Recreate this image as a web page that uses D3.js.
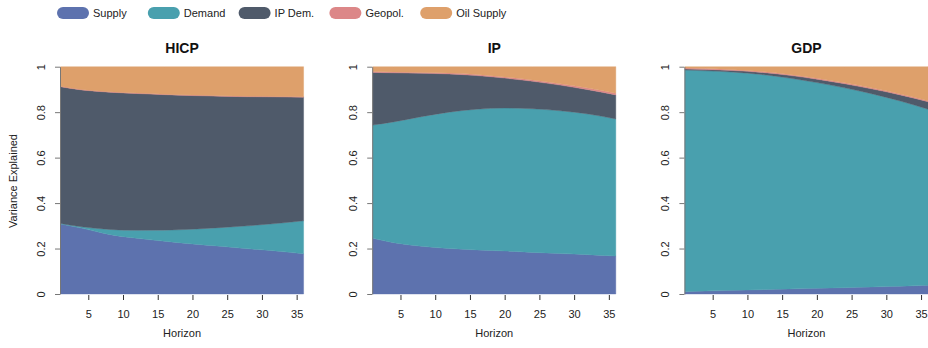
<!DOCTYPE html>
<html><head><meta charset="utf-8">
<script src="https://cdn.jsdelivr.net/npm/d3@7"></script>
<style>
body{margin:0;background:#fff;}
svg{display:block;font-family:"Liberation Sans",Arial,sans-serif;}
</style></head>
<body><svg id="c" width="928" height="348"></svg>
<script>
const horizons = [1,4,8,12,16,20,24,28,32,36];
const seriesNames = ["Supply","Demand","IP Dem.","Geopol.","Oil Supply"];
const seriesColors = ["#5d72ae","#49a0ae","#4f5a6a","#dc8788","#dea06b"];
const panelTitles = ["HICP","IP","GDP"];
const xTicks = [5,10,15,20,25,30,35];
const yTicks = [0,0.2,0.4,0.6,0.8,1];
const yTickLabels = ["0","0.2","0.4","0.6","0.8","1"];

// shares of forecast error variance by shock, per panel
const hicpSupply  = [0.308,0.290,0.262,0.245,0.232,0.220,0.210,0.199,0.189,0.177];
const hicpDemand  = [0.002,0.006,0.022,0.035,0.049,0.065,0.082,0.101,0.121,0.145];
const hicpIPDem   = [0.602,0.602,0.604,0.602,0.596,0.588,0.578,0.568,0.557,0.544];
const hicpGeopol  = [0.002,0.002,0.002,0.002,0.002,0.002,0.002,0.002,0.002,0.002];
const hicpOil     = [0.086,0.100,0.110,0.116,0.121,0.125,0.128,0.130,0.131,0.132];

const ipSupply    = [0.245,0.226,0.210,0.200,0.194,0.189,0.183,0.178,0.173,0.167];
const ipDemand    = [0.498,0.531,0.570,0.600,0.619,0.629,0.632,0.628,0.619,0.603];
const ipIPDem     = [0.232,0.216,0.191,0.168,0.148,0.132,0.121,0.113,0.107,0.106];
const ipGeopol    = [0.004,0.004,0.004,0.004,0.005,0.005,0.006,0.006,0.007,0.007];
const ipOil       = [0.021,0.023,0.025,0.028,0.034,0.045,0.058,0.075,0.094,0.117];

const gdpSupply   = [0.010,0.013,0.016,0.019,0.022,0.025,0.028,0.031,0.034,0.038];
const gdpDemand   = [0.975,0.969,0.960,0.947,0.928,0.905,0.879,0.849,0.815,0.775];
const gdpIPDem    = [0.005,0.006,0.007,0.009,0.012,0.015,0.018,0.022,0.027,0.033];
const gdpGeopol   = [0.004,0.004,0.004,0.004,0.004,0.004,0.004,0.004,0.004,0.004];
const gdpOil      = [0.006,0.008,0.013,0.021,0.034,0.051,0.071,0.094,0.120,0.150];

const panels = [
  [hicpSupply,hicpDemand,hicpIPDem,hicpGeopol,hicpOil],
  [ipSupply,ipDemand,ipIPDem,ipGeopol,ipOil],
  [gdpSupply,gdpDemand,gdpIPDem,gdpGeopol,gdpOil]
];

const svg = d3.select("#c");
const txt = "#222";
const plotTop = 66.7, plotBottom = 294, plotW = 243.1;
const y = d3.scaleLinear().domain([0,1]).range([plotBottom, plotTop]);

panels.forEach((vals, pi) => {
  const left = 60.5 + pi*312.2;
  const x = d3.scaleLinear().domain([1,36]).range([left, left+plotW]);
  const rows = horizons.map((h,i) => {
    const r = {h};
    seriesNames.forEach((s,k) => r[s] = vals[k][i]);
    return r;
  });
  const stacked = d3.stack().keys(seriesNames)(rows);
  const area = d3.area().x(d => x(d.data.h)).y0(d => y(d[0])).y1(d => y(d[1]))
    .curve(d3.curveMonotoneX);
  const g = svg.append("g");
  g.selectAll("path.a").data(stacked).join("path").attr("class","a")
    .attr("d", area).attr("fill",(d,i)=>seriesColors[i])
    .attr("stroke",(d,i)=>seriesColors[i]).attr("stroke-width",0.4);

  // y axis
  const ya = svg.append("g").attr("transform",`translate(${left-0.5},0)`)
    .call(d3.axisLeft(y).tickValues(yTicks).tickFormat((d,i)=>yTickLabels[i]).tickSize(5).tickSizeOuter(0));
  ya.select(".domain").attr("stroke","#777");
  ya.selectAll(".tick line").attr("stroke","#777");
  ya.selectAll(".tick text").attr("fill",txt).attr("font-size",11)
    .attr("x",0).attr("text-anchor","middle")
    .attr("transform","translate(-19,0) rotate(-90)").attr("dy","0.35em");

  // x axis
  const xa = svg.append("g").attr("transform",`translate(0,${plotBottom+1})`)
    .call(d3.axisBottom(x).tickValues(xTicks).tickSize(5).tickSizeOuter(0));
  xa.select(".domain").remove();
  xa.selectAll(".tick line").attr("stroke","#333");
  xa.selectAll(".tick text").attr("fill",txt).attr("font-size",11).attr("y",15);

  svg.append("text").attr("x",left+plotW/2).attr("y",53).attr("text-anchor","middle")
    .attr("font-size",14).attr("font-weight","bold").attr("fill","#111").text(panelTitles[pi]);
  svg.append("text").attr("x",left+plotW/2).attr("y",337).attr("text-anchor","middle")
    .attr("font-size",11).attr("fill",txt).text("Horizon");
});

svg.append("text").attr("transform","translate(17,181) rotate(-90)").attr("text-anchor","middle")
  .attr("font-size",11).attr("fill",txt).text("Variance Explained");

// legend
const lg = svg.append("g");
seriesNames.forEach((s,i) => {
  const lx = 57 + i*90.8;
  lg.append("rect").attr("x",lx).attr("y",7).attr("width",32).attr("height",12).attr("rx",6)
    .attr("fill",seriesColors[i]);
  lg.append("text").attr("x",lx+36).attr("y",17).attr("font-size",11).attr("fill",txt).text(s);
});
</script></body></html>
